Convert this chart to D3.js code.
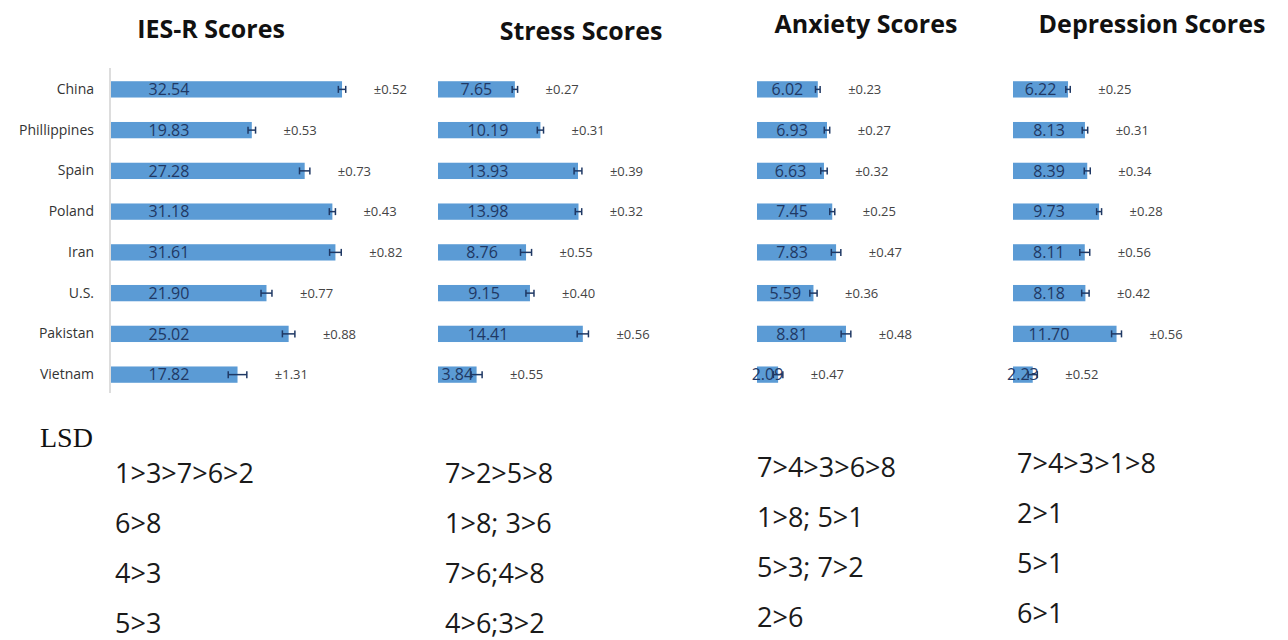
<!DOCTYPE html>
<html>
<head>
<meta charset="utf-8">
<script src="https://cdn.jsdelivr.net/npm/d3@7"></script>
<style>
  body { margin: 0; background: #fff; }
  svg { display: block; }
</style>
</head>
<body>
<svg id="chart"></svg>
<script>
const countries = ["China", "Phillippines", "Spain", "Poland", "Iran", "U.S.", "Pakistan", "Vietnam"];

const iesMean = [32.54, 19.83, 27.28, 31.18, 31.61, 21.90, 25.02, 17.82];
const iesErr = [0.52, 0.53, 0.73, 0.43, 0.82, 0.77, 0.88, 1.31];

const stressMean = [7.65, 10.19, 13.93, 13.98, 8.76, 9.15, 14.41, 3.84];
const stressErr = [0.27, 0.31, 0.39, 0.32, 0.55, 0.40, 0.56, 0.55];

const anxietyMean = [6.02, 6.93, 6.63, 7.45, 7.83, 5.59, 8.81, 2.09];
const anxietyErr = [0.23, 0.27, 0.32, 0.25, 0.47, 0.36, 0.48, 0.47];

const depressionMean = [6.22, 8.13, 8.39, 9.73, 8.11, 8.18, 11.70, 2.23];
const depressionErr = [0.25, 0.31, 0.34, 0.28, 0.56, 0.42, 0.56, 0.52];

const iesLsd = ["1>3>7>6>2", "6>8", "4>3", "5>3"];
const stressLsd = ["7>2>5>8", "1>8; 3>6", "7>6;4>8", "4>6;3>2"];
const anxietyLsd = ["7>4>3>6>8", "1>8; 5>1", "5>3; 7>2", "2>6"];
const depressionLsd = ["7>4>3>1>8", "2>1", "5>1", "6>1"];

const width = 1288;
const height = 640;
const barColor = "#5b9bd5";
const navy = "#1f3864";

const svg = d3.select("#chart")
    .attr("width", width)
    .attr("height", height)
    .attr("viewBox", [0, 0, width, height]);

// shared row scale
const y = d3.scaleBand()
    .domain(countries)
    .range([69, 395])
    .paddingInner(0.6)
    .paddingOuter(0.3);

const panels = [
    {title: "IES-R Scores", mean: iesMean, err: iesErr, lsd: iesLsd,
     x0: 111, max: 35, pxPer: 7.1, labelCap: 58, titleX: 211, titleY: 38,
     lsdX: 115, lsdY: 483, axis: true},
    {title: "Stress Scores", mean: stressMean, err: stressErr, lsd: stressLsd,
     x0: 438, max: 16, pxPer: 10.05, labelCap: 50, titleX: 581, titleY: 40,
     lsdX: 445, lsdY: 483},
    {title: "Anxiety Scores", mean: anxietyMean, err: anxietyErr, lsd: anxietyLsd,
     x0: 757, max: 10, pxPer: 10.1, labelCap: 35, titleX: 866, titleY: 33,
     lsdX: 757, lsdY: 477},
    {title: "Depression Scores", mean: depressionMean, err: depressionErr, lsd: depressionLsd,
     x0: 1013, max: 14, pxPer: 8.85, labelCap: 36, titleX: 1152, titleY: 33,
     lsdX: 1017, lsdY: 473}
];

panels.forEach(p => {
    const x = d3.scaleLinear()
        .domain([0, p.max])
        .range([p.x0, p.x0 + p.max * p.pxPer]);

    const rows = countries.map((c, i) => ({country: c, v: p.mean[i], e: p.err[i]}));
    const g = svg.append("g");

    g.append("text")
        .attr("x", p.titleX)
        .attr("y", p.titleY)
        .attr("text-anchor", "middle")
        .style("font", "bold 25px 'Open Sans', sans-serif")
        .attr("fill", "#111")
        .text(p.title);

    if (p.axis) {
        g.append("g")
            .attr("transform", `translate(${p.x0 - 1},0)`)
            .call(d3.axisLeft(y).tickSize(0).tickPadding(16))
            .call(a => a.select(".domain")
                .attr("stroke", "#bbb")
                .attr("d", "M0,68V393"))
            .call(a => a.selectAll("text")
                .attr("fill", "#333")
                .style("font", "14px 'Open Sans', sans-serif"));
    }

    g.selectAll("rect")
        .data(rows)
        .join("rect")
        .attr("x", x(0))
        .attr("y", d => y(d.country))
        .attr("width", d => x(d.v) - x(0))
        .attr("height", y.bandwidth())
        .attr("fill", barColor);

    const eb = g.selectAll("g.err")
        .data(rows)
        .join("g")
        .attr("class", "err")
        .attr("stroke", navy)
        .attr("stroke-width", 1.5);
    const cy = d => y(d.country) + y.bandwidth() / 2;
    eb.append("line")
        .attr("x1", d => x(d.v - d.e)).attr("x2", d => x(d.v + d.e))
        .attr("y1", cy).attr("y2", cy);
    eb.append("line")
        .attr("x1", d => x(d.v - d.e)).attr("x2", d => x(d.v - d.e))
        .attr("y1", d => cy(d) - 3.5).attr("y2", d => cy(d) + 3.5);
    eb.append("line")
        .attr("x1", d => x(d.v + d.e)).attr("x2", d => x(d.v + d.e))
        .attr("y1", d => cy(d) - 3.5).attr("y2", d => cy(d) + 3.5);

    g.selectAll("text.val")
        .data(rows)
        .join("text")
        .attr("class", "val")
        .attr("x", d => x(0) + Math.min((x(d.v) - x(0)) / 2, p.labelCap))
        .attr("y", d => cy(d))
        .attr("dy", "0.36em")
        .attr("text-anchor", "middle")
        .attr("fill", navy)
        .style("font", "16px 'Open Sans', sans-serif")
        .text(d => d.v.toFixed(2));

    g.selectAll("text.pm")
        .data(rows)
        .join("text")
        .attr("class", "pm")
        .attr("x", d => x(d.v + d.e) + 28)
        .attr("y", d => cy(d))
        .attr("dy", "0.36em")
        .attr("fill", "#444")
        .style("font", "13px 'Open Sans', sans-serif")
        .text(d => "±" + d.e.toFixed(2));

    g.selectAll("text.lsd")
        .data(p.lsd)
        .join("text")
        .attr("class", "lsd")
        .attr("x", p.lsdX)
        .attr("y", (d, i) => p.lsdY + i * 50)
        .attr("fill", "#1a1a1a")
        .style("font", "27px 'Open Sans', sans-serif")
        .text(d => d);
});

svg.append("text")
    .attr("x", 40)
    .attr("y", 447)
    .attr("fill", "#111")
    .style("font", "28px 'Liberation Serif', serif")
    .text("LSD");
</script>
</body>
</html>
